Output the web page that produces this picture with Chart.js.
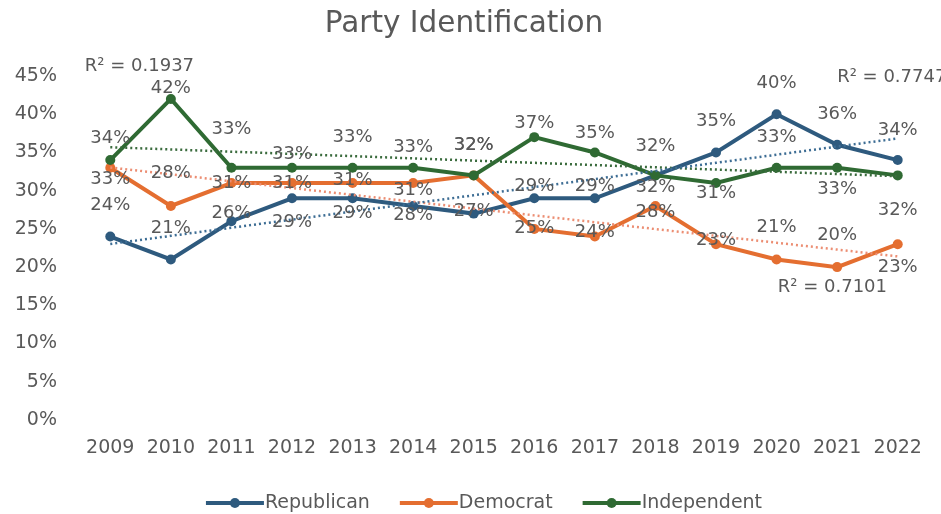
<!DOCTYPE html>
<html>
<head>
<meta charset="utf-8">
<title>Party Identification</title>
<script src="https://cdn.jsdelivr.net/npm/chart.js@4.4.1/dist/chart.umd.min.js"></script>
<style>
    html, body { margin: 0; padding: 0; background: #fff; }
    #grafico { display: block; }
</style>
</head>
<body>
<canvas id="grafico" width="941" height="514"></canvas>
<script>
// Datos de la encuesta (porcentaje por año)
const anios = ['2009', '2010', '2011', '2012', '2013', '2014', '2015', '2016', '2017', '2018', '2019', '2020', '2021', '2022'];
const republicanos = [24, 21, 26, 29, 29, 28, 27, 29, 29, 32, 35, 40, 36, 34];
const democratas = [33, 28, 31, 31, 31, 31, 32, 25, 24, 28, 23, 21, 20, 23];
const independientes = [34, 42, 33, 33, 33, 33, 32, 37, 35, 32, 31, 33, 33, 32];
const marcasEje = [0, 5, 10, 15, 20, 25, 30, 35, 40, 45];
const textosR2 = ['R² = 0.1937', 'R² = 0.7747', 'R² = 0.7101'];

// Desplazamiento vertical (px) de cada etiqueta respecto a su punto
const despRep = [-31, -31, -8, 24, 15, 9, -2, -12, -12, 12, -31, -31, -30, -30];
const despDem = [12, -33, 0, 0, -3, 7, -30, -1, -4, 6, -4, -32, -32, 23];
const despInd = [-22, -11, -38, -13, -30, -20, -30, -14, -19, -29, 10, -30, 22, 35];

// Donde va cada texto de R² (indice de categoria, valor del eje y)
const anclasR2 = [
    { x: -0.42, y: 46.2 },
    { x: 12.0, y: 44.8 },
    { x: 11.02, y: 17.4 }
];

const GRIS = '#595959';
const FUENTE = '"DejaVu Sans", Verdana, sans-serif';

const Controlador = {
    // recta de minimos cuadrados, igual que la linea de tendencia de Excel
    tendencia: function (valores) {
        const n = valores.length;
        const mx = (n - 1) / 2;
        const my = valores.reduce((a, b) => a + b, 0) / n;
        let sxy = 0, sxx = 0;
        valores.forEach((v, i) => {
            sxy += (i - mx) * (v - my);
            sxx += (i - mx) * (i - mx);
        });
        const m = sxy / sxx;
        return valores.map((v, i) => my + m * (i - mx));
    },

    serie: function (nombre, valores, color, desp) {
        return {
            label: nombre,
            data: valores,
            borderColor: color,
            backgroundColor: color,
            borderWidth: 4,
            pointRadius: 5,
            pointHoverRadius: 5,
            pointBorderWidth: 0,
            tension: 0,
            desp: desp,
            enLeyenda: true
        };
    },

    lineaTendencia: function (valores, color) {
        return {
            label: '',
            data: Controlador.tendencia(valores),
            borderColor: color,
            borderWidth: 2.5,
            borderDash: [2, 3],
            pointRadius: 0,
            pointHoverRadius: 0,
            tension: 0,
            order: 0
        };
    }
};

const Vista = {
    // etiquetas de valor encima o debajo de cada punto
    etiquetas: {
        id: 'etiquetas',
        afterDatasetsDraw: function (chart) {
            const ctx = chart.ctx;
            ctx.save();
            ctx.font = '18px ' + FUENTE;
            ctx.fillStyle = GRIS;
            ctx.textAlign = 'center';
            ctx.textBaseline = 'middle';
            chart.data.datasets.forEach((ds, i) => {
                if (!ds.desp) return;
                const meta = chart.getDatasetMeta(i);
                meta.data.forEach((p, j) => {
                    ctx.fillText(ds.data[j] + '%', p.x, p.y + ds.desp[j]);
                });
            });
            // coeficientes R² de las tendencias
            const sx = chart.scales.x, sy = chart.scales.y;
            ctx.textAlign = 'left';
            textosR2.forEach((t, i) => {
                const a = anclasR2[i];
                const x0 = sx.getPixelForValue(0), x1 = sx.getPixelForValue(1);
                ctx.fillText(t, x0 + (x1 - x0) * a.x, sy.getPixelForValue(a.y));
            });
            ctx.restore();
        }
    },

    // leyenda de linea con marcador, centrada debajo del eje
    leyenda: {
        id: 'leyenda',
        afterDraw: function (chart) {
            const ctx = chart.ctx;
            const series = chart.data.datasets.filter(d => d.enLeyenda);
            const largo = 58, hueco = 1, sep = 30;
            ctx.save();
            ctx.font = '19px ' + FUENTE;
            const anchos = series.map(s => largo + hueco + ctx.measureText(s.label).width);
            const total = anchos.reduce((a, b) => a + b, 0) + sep * (series.length - 1);
            let x = 484 - total / 2;
            const y = 503;
            series.forEach((s, i) => {
                ctx.strokeStyle = s.borderColor;
                ctx.fillStyle = s.borderColor;
                ctx.lineWidth = 4;
                ctx.beginPath();
                ctx.moveTo(x, y);
                ctx.lineTo(x + largo, y);
                ctx.stroke();
                ctx.beginPath();
                ctx.arc(x + largo / 2, y, 5, 0, Math.PI * 2);
                ctx.fill();
                ctx.fillStyle = GRIS;
                ctx.textAlign = 'left';
                ctx.textBaseline = 'middle';
                ctx.fillText(s.label, x + largo + hueco, y);
                x += anchos[i] + sep;
            });
            ctx.restore();
        }
    },

    dibujar: function () {
        const rep = Controlador.serie('Republican', republicanos, '#2E5A7E', despRep);
        rep.order = 3;
        const dem = Controlador.serie('Democrat', democratas, '#E46E30', despDem);
        dem.order = 2;
        const ind = Controlador.serie('Independent', independientes, '#2F6A33', despInd);
        ind.order = 1;

        new Chart(document.getElementById('grafico'), {
            type: 'line',
            data: {
                labels: anios,
                datasets: [
                    rep, dem, ind,
                    Controlador.lineaTendencia(republicanos, '#3D6D94'),
                    Controlador.lineaTendencia(democratas, '#EC8E73'),
                    Controlador.lineaTendencia(independientes, '#3A6B3D')
                ]
            },
            options: {
                responsive: false,
                animation: false,
                layout: { padding: { left: 0, right: 13, top: 0, bottom: 44 } },
                plugins: {
                    legend: { display: false },
                    tooltip: { enabled: false },
                    title: {
                        display: true,
                        text: 'Party Identification',
                        color: GRIS,
                        font: { family: FUENTE, size: 29.5, weight: 'normal' },
                        padding: { top: 7, bottom: 33.6 }
                    }
                },
                scales: {
                    x: {
                        offset: true,
                        grid: { display: false },
                        border: { display: false },
                        ticks: { color: GRIS, font: { family: FUENTE, size: 19 }, padding: 9 },
                        afterFit: function (s) { s.height = 50; }
                    },
                    y: {
                        min: 0,
                        max: 45,
                        afterBuildTicks: function (s) { s.ticks = marcasEje.map(v => ({ value: v })); },
                        grid: { display: false },
                        border: { display: false },
                        ticks: {
                            color: GRIS,
                            font: { family: FUENTE, size: 19 },
                            padding: 15,
                            callback: v => v + '%'
                        },
                        afterFit: function (s) { s.width = 80; }
                    }
                }
            },
            plugins: [Vista.etiquetas, Vista.leyenda]
        });
    }
};

document.addEventListener('DOMContentLoaded', function () {
    Vista.dibujar();
});
</script>
</body>
</html>
